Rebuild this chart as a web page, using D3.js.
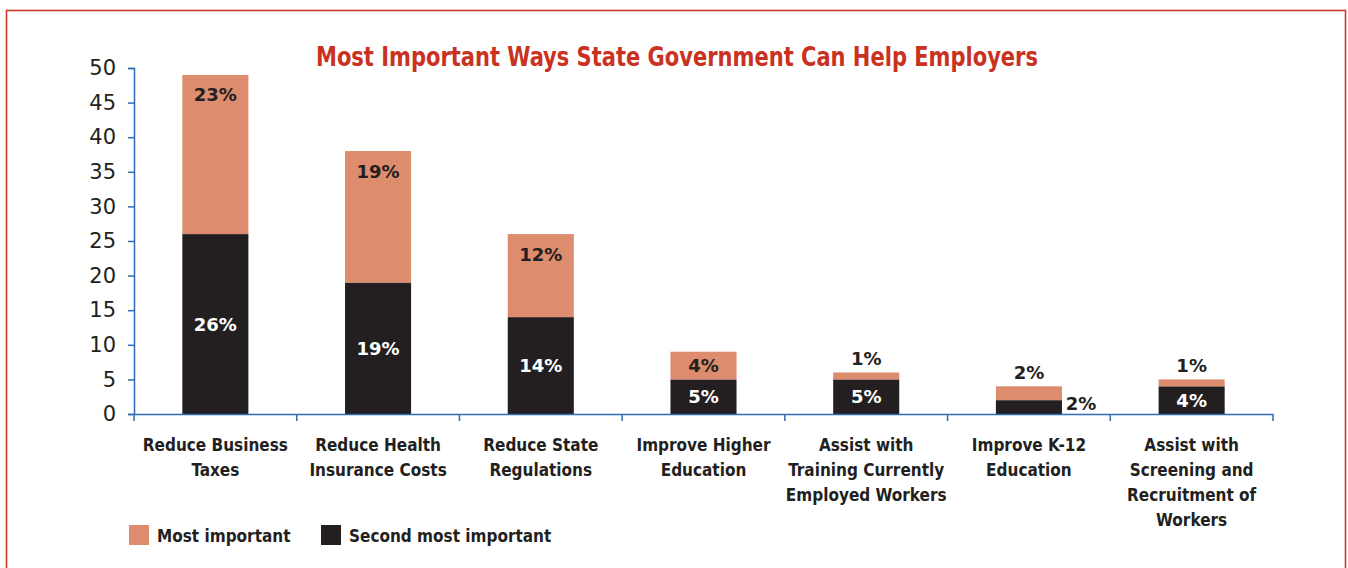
<!DOCTYPE html>
<html>
<head>
<meta charset="utf-8">
<script src="https://cdnjs.cloudflare.com/ajax/libs/d3/7.8.5/d3.min.js"></script>
<style>
  body { margin: 0; background: #fff; }
  svg { display: block; }
  .narrow { font-family: "Liberation Sans Narrow", "DejaVu Sans Condensed", sans-serif; }
</style>
</head>
<body>
<script>
// chart data
let categories = [
  ["Reduce Business", "Taxes"],
  ["Reduce Health", "Insurance Costs"],
  ["Reduce State", "Regulations"],
  ["Improve Higher", "Education"],
  ["Assist with", "Training Currently", "Employed Workers"],
  ["Improve K-12", "Education"],
  ["Assist with", "Screening and", "Recruitment of", "Workers"]
];
let secondMost = [26, 19, 14, 5, 5, 2, 4];
let mostImportant = [23, 19, 12, 4, 1, 2, 1];
let yTicks = [0, 5, 10, 15, 20, 25, 30, 35, 40, 45, 50];
let seriesNames = ["Most important", "Second most important"];

let w = 1348, h = 568;
let orange = "#de8c6e", black = "#231f20", axisBlue = "#2f6cb5", red = "#c9321f";

let svg = d3.select("body").append("svg").attr("width", w).attr("height", h);

// frame
svg.append("rect").attr("x", 6.5).attr("y", 10.5).attr("width", 1339).attr("height", 570)
  .attr("fill", "none").attr("stroke", "#cc3a28").attr("stroke-width", 1.6);

svg.append("text").attr("class", "narrow")
  .attr("x", 677).attr("y", 66).attr("text-anchor", "middle")
  .attr("font-size", 26).attr("font-weight", "bold").attr("fill", red)
  .attr("textLength", 722).attr("lengthAdjust", "spacingAndGlyphs")
  .text("Most Important Ways State Government Can Help Employers");

let x = d3.scaleBand().domain(d3.range(categories.length)).range([134, 1273])
  .paddingInner(0.594).paddingOuter(0.297);
let y = d3.scaleLinear().domain([0, 50]).range([414, 68]);
let step = x.step();

// y axis
let yAxis = svg.append("g").attr("transform", "translate(134,0)")
  .call(d3.axisLeft(y).tickValues(yTicks).tickSize(6).tickPadding(12));
yAxis.select(".domain").attr("stroke", axisBlue).attr("stroke-width", 1.5);
yAxis.selectAll(".tick line").attr("stroke", axisBlue).attr("stroke-width", 1.5);
yAxis.selectAll(".tick text").attr("font-family", "DejaVu Sans, sans-serif")
  .attr("font-size", 21).attr("fill", black);

// bars
let rows = categories.map((c, i) => ({ i: i, a: secondMost[i], b: mostImportant[i] }));

svg.selectAll(".bar2").data(rows).enter().append("rect")
  .attr("x", d => x(d.i)).attr("width", x.bandwidth())
  .attr("y", d => y(d.a)).attr("height", d => y(0) - y(d.a))
  .attr("fill", black);

svg.selectAll(".bar1").data(rows).enter().append("rect")
  .attr("x", d => x(d.i)).attr("width", x.bandwidth())
  .attr("y", d => y(d.a + d.b)).attr("height", d => y(d.a) - y(d.a + d.b))
  .attr("fill", orange);

// x axis (drawn after bars)
svg.append("line").attr("x1", 134).attr("x2", 1273).attr("y1", 414.5).attr("y2", 414.5)
  .attr("stroke", axisBlue).attr("stroke-width", 1.5);
svg.selectAll(".xtick").data(d3.range(categories.length + 1)).enter().append("line")
  .attr("x1", i => 134 + i * step).attr("x2", i => 134 + i * step)
  .attr("y1", 414).attr("y2", 421)
  .attr("stroke", axisBlue).attr("stroke-width", 1.5);

// value labels
let lab = { "font-family": "DejaVu Sans, sans-serif", "font-size": 18, "font-weight": 600 };
function styleLab(sel) {
  Object.keys(lab).forEach(k => sel.attr(k, lab[k]));
  return sel.attr("text-anchor", "middle").attr("dominant-baseline", "central");
}
styleLab(svg.selectAll(".l2").data(rows).enter().append("text"))
  .attr("x", d => {
    let hgt = y(0) - y(d.a);
    return hgt < 18 ? x(d.i) + x.bandwidth() + 19 : x(d.i) + x.bandwidth() / 2;
  })
  .attr("y", d => {
    let hgt = y(0) - y(d.a);
    return hgt < 18 ? y(0) - 11 : (y(0) + y(d.a)) / 2;
  })
  .attr("fill", d => (y(0) - y(d.a)) < 18 ? black : "#fff")
  .text(d => d.a + "%");

styleLab(svg.selectAll(".l1").data(rows).enter().append("text"))
  .attr("x", d => x(d.i) + x.bandwidth() / 2)
  .attr("y", d => {
    let top = y(d.a + d.b), hgt = y(d.a) - top;
    if (hgt >= 40) return top + 20;
    if (hgt >= 20) return top + hgt / 2;
    return top - 14;
  })
  .attr("fill", black)
  .text(d => d.b + "%");

// category labels
let cat = svg.selectAll(".cat").data(categories).enter().append("text")
  .attr("class", "narrow")
  .attr("text-anchor", "middle").attr("font-size", 17).attr("font-weight", "bold")
  .attr("fill", black);
cat.selectAll("tspan").data((d, i) => d.map(s => ({ s: s, i: i }))).enter().append("tspan")
  .attr("x", d => x(d.i) + x.bandwidth() / 2)
  .attr("y", (d, j) => 451 + j * 25)
  .text(d => d.s);

// legend
let leg = svg.selectAll(".leg").data(seriesNames).enter().append("g")
  .attr("transform", (d, i) => `translate(${i === 0 ? 129 : 321},525)`);
leg.append("rect").attr("width", 20).attr("height", 20)
  .attr("fill", (d, i) => i === 0 ? orange : black);
leg.append("text").attr("class", "narrow").attr("x", 28).attr("y", 17)
  .attr("font-size", 17).attr("font-weight", "bold").attr("fill", black)
  .text(d => d);
</script>
</body>
</html>
